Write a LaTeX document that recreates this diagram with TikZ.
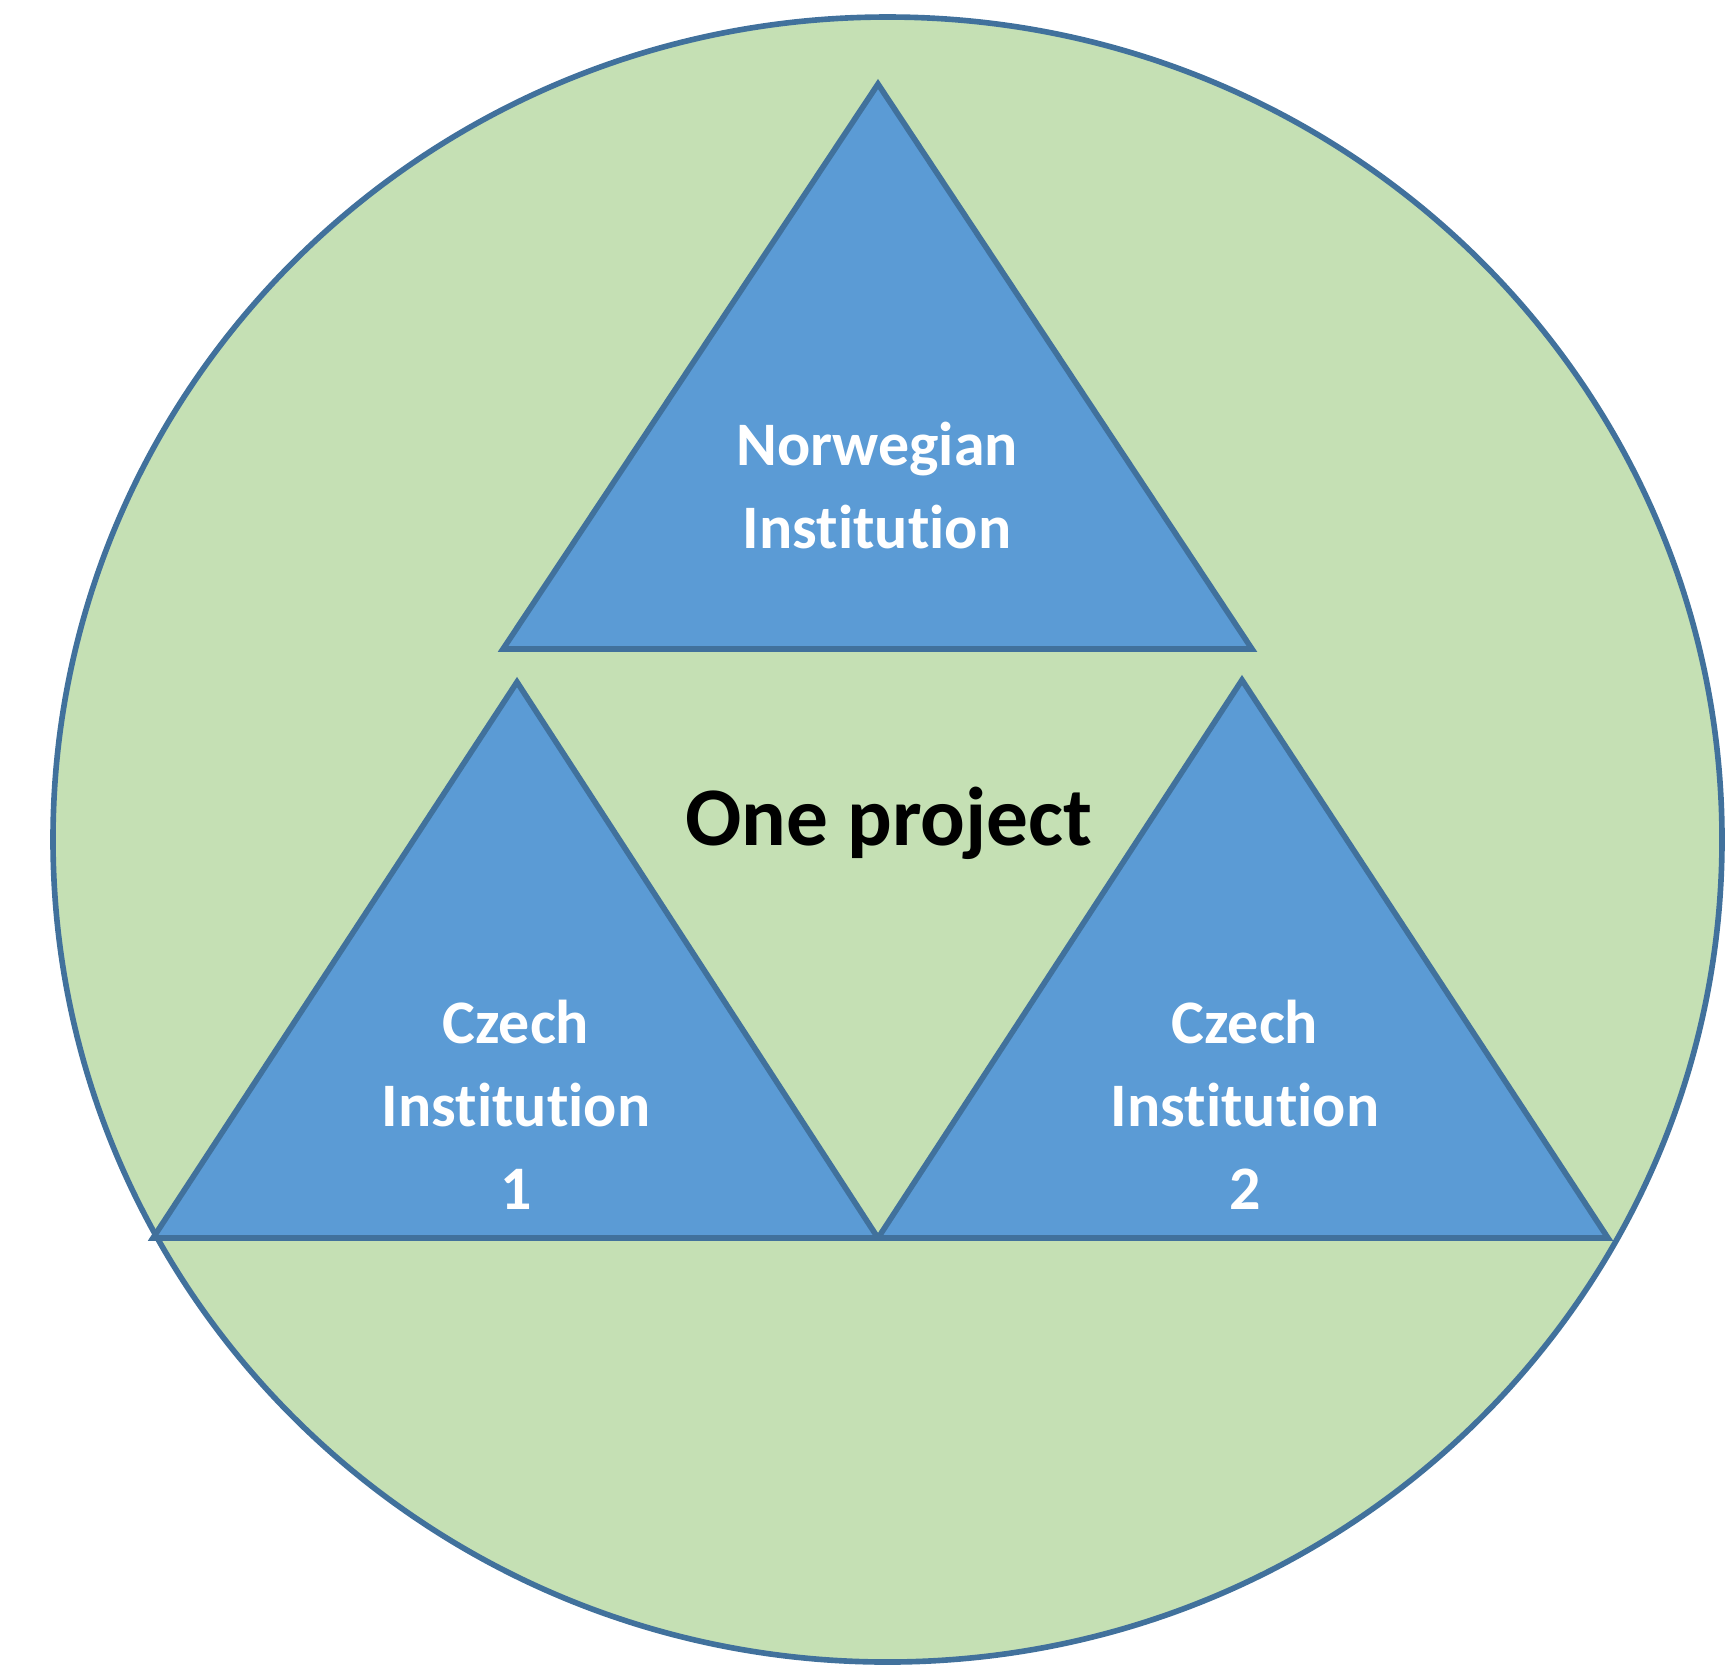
\documentclass[tikz,border=0pt]{standalone}
\usepackage{fontspec}
\setmainfont{Carlito}[RawFeature=-liga]
\definecolor{ringgreen}{HTML}{C5E0B4}
\definecolor{triblue}{HTML}{5B9BD5}
\definecolor{edgeblue}{HTML}{41719C}
\tikzset{
  ring/.style={fill=ringgreen, draw=edgeblue, line width=1.6pt},
  tri/.style={fill=triblue, draw=edgeblue, line width=1.6pt, line join=miter},
  wlabel/.style={anchor=base, inner sep=0pt, text=white, font=\bfseries\fontsize{17.6}{20}\selectfont},
  blabel/.style={anchor=base, inner sep=0pt, text=black, font=\bfseries\fontsize{23.7}{28}\selectfont}
}
\begin{document}
\begin{tikzpicture}[x=0.01cm,y=-0.01cm]
\useasboundingbox (0,0) rectangle (1727,1668);
\draw[ring] (887.5,839.5) ellipse [x radius=834.5, y radius=822.5];
% top triangle
\coordinate (tA) at (878,84);
\coordinate (tB) at (1252,649);
\coordinate (tC) at (503,649);
\draw[tri] (tA) -- (tB) -- (tC) -- cycle;
% bottom left triangle
\coordinate (lA) at (517,682);
\coordinate (lB) at (878,1238);
\coordinate (lC) at (153,1238);
\draw[tri] (lA) -- (lB) -- (lC) -- cycle;
% bottom right triangle
\coordinate (rA) at (1242,680);
\coordinate (rB) at (1608,1238);
\coordinate (rC) at (878,1238);
\draw[tri] (rA) -- (rB) -- (rC) -- cycle;
% labels
\node[wlabel] (norw1) at (877,465) {Norwegian};
\node[wlabel] (norw2) at (877,548) {Institution};
\node[wlabel] (cz1a) at (516,1043) {Czech};
\node[wlabel] (cz1b) at (516,1126) {Institution};
\node[wlabel] (cz1c) at (516,1209) {1};
\node[wlabel] (cz2a) at (1245,1043) {Czech};
\node[wlabel] (cz2b) at (1245,1126) {Institution};
\node[wlabel] (cz2c) at (1245,1209) {2};
\node[blabel] (proj) at (889,845) {One project};
\end{tikzpicture}
\end{document}
